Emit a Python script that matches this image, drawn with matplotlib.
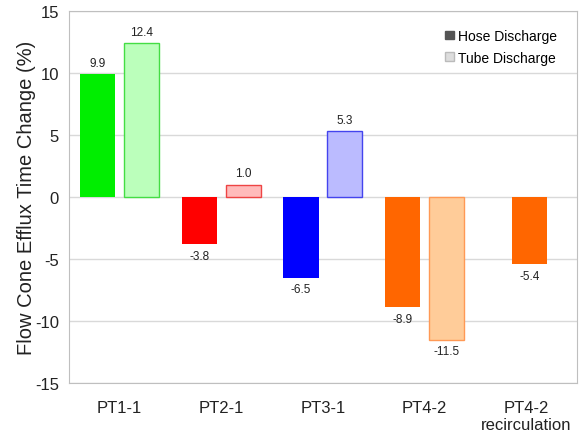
import matplotlib.pyplot as plt
import numpy as np
from matplotlib.patches import Patch

plt.rcParams['font.family'] = ['Liberation Sans', 'DejaVu Sans']
plt.rcParams['axes.unicode_minus'] = False

categories = ['PT1-1', 'PT2-1', 'PT3-1', 'PT4-2', 'PT4-2\nrecirculation']
hose = [9.9, -3.8, -6.5, -8.9, -5.4]
tube = [12.4, 1.0, 5.3, -11.5]

hose_colors = ['#00ee00', '#ff0000', '#0000ff', '#ff6600', '#ff6600']
tube_colors = ['#bbffbb', '#ffbbbb', '#bbbbff', '#ffcc99']
tube_edges = ['#44dd44', '#ee4444', '#4444ee', '#ff9955']

fig = plt.figure(figsize=(5.87, 4.39), dpi=100)
ax = fig.add_axes([0.117, 0.125, 0.866, 0.848])

x = np.arange(len(categories))
w = 0.345
off = 0.215

for i, v in enumerate(hose):
    xi = x[i] - off if i < len(tube) else x[i] + 0.03
    ax.bar(xi, v, w, color=hose_colors[i], zorder=3)
    ax.text(xi, v + (0.45 if v > 0 else -0.45), f'{v:.1f}', ha='center',
            va='bottom' if v > 0 else 'top', fontsize=8.5, color='#222222')

for i, v in enumerate(tube):
    xi = x[i] + off
    ax.bar(xi, v, w, color=tube_colors[i], edgecolor=tube_edges[i], linewidth=1, zorder=3)
    ax.text(xi, v + (0.45 if v > 0 else -0.45), f'{v:.1f}', ha='center',
            va='bottom' if v > 0 else 'top', fontsize=8.5, color='#222222')

ax.set_xlim(-0.5, len(categories) - 0.5)
ax.set_ylim(-15, 15)
ax.set_yticks(range(-15, 16, 5))
ax.set_xticks(x)
ax.set_xticklabels(categories)
ax.tick_params(axis='both', length=0, pad=7, labelsize=12, colors='#222222')
ax.tick_params(axis='x', pad=12)
ax.grid(axis='y', color='#d9d9d9', linewidth=1, zorder=0)
for s in ax.spines.values():
    s.set_color('#bfbfbf')
ax.set_ylabel('Flow Cone Efflux Time Change (%)', fontsize=14.5, color='#222222', labelpad=-1)

handles = [Patch(facecolor='#555555', edgecolor='#555555'),
           Patch(facecolor='#dddddd', edgecolor='#bbbbbb')]
ax.legend(handles, ['Hose Discharge', 'Tube Discharge'], loc='upper right',
          bbox_to_anchor=(0.985, 0.985), frameon=False, fontsize=10,
          handlelength=0.6, handleheight=0.6, handletextpad=0.3, labelspacing=0.55)

plt.savefig('out.png')
